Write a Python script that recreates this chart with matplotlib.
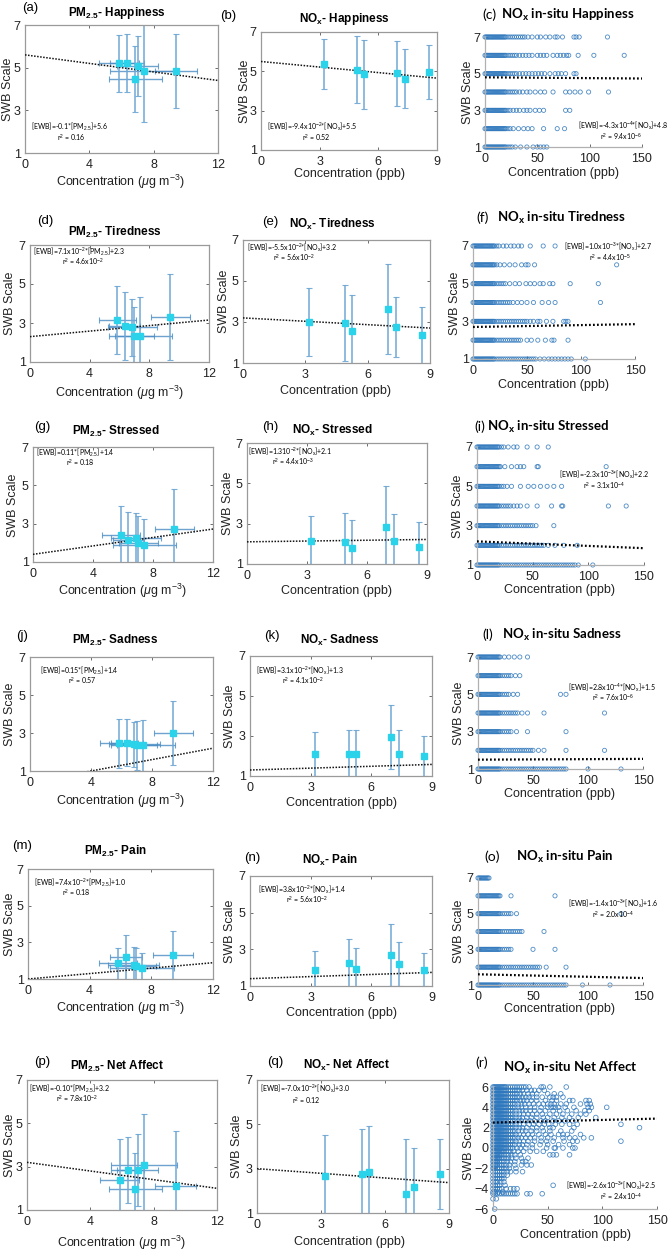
import matplotlib
matplotlib.use('Agg')
import matplotlib.pyplot as plt
import numpy as np

plt.rcParams['font.family'] = ['Liberation Sans', 'DejaVu Sans']
plt.rcParams['mathtext.fontset'] = 'custom'
plt.rcParams['mathtext.rm'] = 'Liberation Sans'
plt.rcParams['mathtext.it'] = 'Liberation Sans:italic'
plt.rcParams['mathtext.bf'] = 'Liberation Sans:bold'

# ---------------- data ----------------
pm_x = [5.85, 6.35, 6.85, 7.0, 7.4, 9.4]
pm_xerr = [1.25, 1.05, 1.65, 1.3, 2.1, 1.3]
nox_x = [3.2, 4.9, 5.25, 6.97, 7.35, 8.6]

a_y = [5.20, 5.23, 4.45, 5.07, 4.85, 4.85]; a_yerr = [1.32, 1.37, 1.55, 1.40, 2.40, 1.73]
d_y = [3.17, 2.86, 2.78, 2.32, 2.35, 3.30]; d_yerr = [1.75, 1.75, 1.46, 1.49, 2.00, 2.22]
g_y = [2.39, 2.17, 2.27, 1.99, 1.87, 2.70]; g_yerr = [1.53, 1.43, 1.30, 1.39, 1.36, 2.09]
j_y = [2.45, 2.50, 2.40, 2.35, 2.35, 3.00]; j_yerr = [1.30, 1.25, 1.20, 1.30, 1.35, 1.70]
m_y = [1.85, 2.20, 1.75, 1.70, 1.60, 2.30]; m_yerr = [0.85, 1.20, 1.00, 1.00, 0.80, 1.30]
p_y = [2.38, 2.85, 1.97, 2.83, 3.06, 2.12]; p_yerr = [1.90, 1.53, 1.68, 1.66, 2.36, 2.53]

b_y = [5.36, 5.09, 4.85, 4.89, 4.62, 4.96]; b_yerr = [1.28, 1.72, 1.76, 1.67, 1.50, 1.37]
e_y = [3.00, 2.95, 2.55, 3.65, 2.75, 2.35]; e_yerr = [1.65, 1.85, 1.75, 2.20, 1.45, 1.40]
h_y = [2.14, 2.07, 1.78, 2.84, 2.16, 1.84]; h_yerr = [1.26, 1.45, 1.38, 2.04, 1.31, 1.26]
k_y = [2.10, 2.10, 2.10, 2.95, 2.10, 2.00]; k_yerr = [1.10, 1.20, 1.20, 1.60, 1.20, 1.00]
n_y = [1.90, 2.25, 1.95, 2.70, 2.20, 1.90]; n_yerr = [1.00, 1.30, 1.10, 1.70, 1.20, 0.90]
q_y = [2.66, 2.78, 2.85, 1.84, 2.17, 2.78]; q_yerr = [1.84, 2.03, 2.07, 2.48, 1.78, 1.58]

# fit coefficients (slope, intercept)
fit_a = (-0.10, 5.6); fit_b = (-0.094, 5.5); fit_c = (-4.3e-4, 4.8)
fit_d = (0.071, 2.3); fit_e = (-0.055, 3.2); fit_f = (1.0e-3, 2.7)
fit_g = (0.11, 1.4); fit_h = (0.013, 2.1); fit_i = (-2.3e-3, 2.2)
fit_j = (0.15, 0.4); fit_k = (0.031, 1.3); fit_l = (2.8e-4, 1.5)
fit_m = (0.074, 1.0); fit_n = (0.038, 1.4); fit_o = (-1.4e-3, 1.6)
fit_p = (-0.10, 3.2); fit_q = (-0.070, 3.0); fit_r = (2.6e-3, 2.5)

# in-situ scatter: x values (ppb) of responses at each SWB level 1..7
swb_levels = [1, 2, 3, 4, 5, 6, 7]
c_x1 = [0,1,2,3,4,5,6,7,8,9,10,11,12,13,14,15,16,17,18,19,20,22,24,26,29,34,40,46,50,53,56,59]
c_x2 = [0,1,2,3,4,5,6,7,8,9,10,11,12,13,14,15,16,17,18,19,20,22,24,27,32,37,41,45,56,69,76]
c_x3 = [0,1,2,3,4,5,6,7,8,9,10,11,12,13,14,15,16,17,18,19,20,22,24,27,30,33,37,40,43,48,52,56,77,81]
c_x4 = [0,1,2,3,4,5,6,7,8,9,10,11,12,13,14,15,16,17,18,19,20,22,24,26,28,30,33,36,40,43,48,53,57,65,77,81,86,91,99,118]
c_x5 = [0,1,2,3,4,5,6,7,8,9,10,11,12,13,14,15,16,17,18,19,20,22,24,26,28,30,33,36,39,42,45,48,51,54,57,62,67,70,73,77,85,87]
c_x6 = [0,1,2,3,4,5,6,7,8,9,10,11,12,13,14,15,16,17,18,19,20,22,24,26,28,30,33,36,39,42,45,50,53,56,59,65,69,72,75,78,80,89,104,133]
c_x7 = [0,1,2,3,4,5,6,7,8,9,10,11,12,13,14,15,16,17,18,19,20,22,24,26,28,30,32,34,36,38,41,45,50,53,58,62,67,69,74,85,87,90,117]

f_x1 = [0,1,2,3,4,5,6,7,8,9,10,11,12,13,14,15,16,17,18,19,20,22,24,26,28,30,32,34,36,38,40,42,44,46,48,50,52,54,56,58,62,66,70,73,76,79,82,85,88,91,104]
f_x2 = [0,1,2,3,4,5,6,7,8,9,10,11,12,13,14,15,16,17,18,19,20,22,24,26,28,30,32,34,36,38,40,42,44,50,54,60,67,73,75,88]
f_x3 = [0,1,2,3,4,5,6,7,8,9,10,11,12,13,14,15,16,17,18,19,20,22,24,26,28,30,32,34,36,38,40,42,44,46,48,50,53,56,60,62,68,74,84,86,88]
f_x4 = [0,1,2,3,4,5,6,7,8,9,10,11,12,13,14,15,16,17,18,19,20,22,24,26,28,30,32,34,37,41,45,50,56,64,70,76,118]
f_x5 = [0,1,2,3,4,5,6,7,8,9,10,11,12,13,14,15,16,17,18,19,20,22,24,26,28,30,34,39,43,49,53,57,62,65,71,74,90,116]
f_x6 = [0,1,2,3,4,5,6,7,8,9,10,11,12,13,14,15,16,17,18,19,20,22,25,29,34,39,45,49,51,57,133]
f_x7 = [0,1,2,3,4,5,6,7,8,9,10,11,12,13,14,15,16,17,18,19,20,22,24,28,31,35,38,42,45,53,65,76]

i_x1 = [0,1,2,3,4,5,6,7,8,9,10,11,12,13,14,15,16,17,18,19,20,22,24,26,28,30,32,34,36,38,40,42,44,46,48,50,52,54,56,58,60,62,64,66,68,70,72,74,76,78,80,82,84,86,88,91,104]
i_x2 = [0,1,2,3,4,5,6,7,8,9,10,11,12,13,14,15,16,17,18,19,20,22,24,26,28,30,32,34,36,38,40,42,44,46,48,50,52,54,56,58,60,64,70,78,90]
i_x3 = [0,1,2,3,4,5,6,7,8,9,10,11,12,13,14,15,16,17,18,19,20,22,24,26,28,30,32,34,36,38,40,42,44,46,48,50,53,69]
i_x4 = [0,1,2,3,4,5,6,7,8,9,10,11,12,13,14,15,16,17,18,19,20,22,24,26,28,30,33,36,39,45,54,67,76,77,118,134]
i_x5 = [0,1,2,3,4,5,6,7,8,9,10,11,12,13,14,15,16,17,18,19,20,22,24,27,31,39,46,51,57,63,69,76]
i_x6 = [0,1,2,3,4,5,6,7,8,9,10,11,12,13,14,15,16,17,18,19,20,21,25,31,36,39,42,54,55,116]
i_x7 = [0,1,2,3,4,5,6,7,8,9,10,11,12,13,14,15,16,17,18,19,20,22,24,28,33,36,45,54,64]

l_x1 = [0,1,2,3,4,5,6,7,8,9,10,11,12,13,14,15,16,17,18,19,20,22,24,26,28,30,32,34,36,38,40,42,44,46,48,50,52,54,56,58,60,62,64,66,68,70,72,74,76,78,80,100,130]
l_x2 = [0,1,2,3,4,5,6,7,8,9,10,11,12,13,14,15,16,17,18,19,20,22,24,26,28,30,32,34,36,38,40,42,44,46,48,50,55,60,80,115]
l_x3 = [0,1,2,3,4,5,6,7,8,9,10,11,12,13,14,15,16,17,18,19,20,22,24,26,28,30,35,45,80]
l_x4 = [0,1,2,3,4,5,6,7,8,9,10,11,12,13,14,15,16,17,18,19,20,22,24,26,28,30,32,34,36,40,45,60,115]
l_x5 = [0,1,2,3,4,5,6,7,8,9,10,11,12,13,14,15,16,17,18,19,20,22,24,26,28,32,36,75,80]
l_x6 = [0,1,2,3,4,5,6,7,8,9,10,11,12,13,14,15,16,17,18,19,20,22,24,26,28,30,34,38]
l_x7 = [0,1,2,3,4,5,6,7,8,9,10,11,12,13,14,15,16,17,18,19,20,24,28,33,38,45]

o_x1 = [0,1,2,3,4,5,6,7,8,9,10,11,12,13,14,15,16,17,18,19,20,22,24,26,28,30,32,34,36,38,40,42,44,46,48,50,52,54,56,58,60,62,64,66,68,70,72,74,76,78,80,95,120]
o_x2 = [0,1,2,3,4,5,6,7,8,9,10,11,12,13,14,15,16,17,18,19,20,22,24,26,28,30,32,34,36,38,40,42,44,46,48,50,52,54,56,62,80]
o_x3 = [0,1,2,3,4,5,6,7,8,9,10,11,12,13,14,15,16,17,18,19,20,22,24,26,28,30,50,70]
o_x4 = [0,1,2,3,4,5,6,7,8,9,10,11,12,13,14,15,16,17,18,19,20,22,24,26,28,30,32,34,36,38,40,60]
o_x5 = [0,1,2,3,4,5,6,7,8,9,10,11,12,13,14,15,16,17,18,19,20,22,24,26,28,30,35,130]
o_x6 = [0,1,2,3,4,5,6,7,8,9,10,11,12,13,14,15,16,17,18,19,20,30,70]
o_x7 = [0,1,2,3,4,5,6,7,8,9,10]

# net affect: levels and x values at each level
r_levels = [6.0, 5.67, 5.33, 5.0, 4.67, 4.33, 4.0, 3.67, 3.33, 3.0, 2.67, 2.33, 2.0, 1.67,
            1.33, 1.0, 0.67, 0.33, 0.0, -0.33, -0.67, -1.0, -1.33, -1.67, -2.0, -2.33,
            -2.67, -3.0, -3.33, -3.67, -4.0, -4.33, -4.5, -5.0, -6.0]
r_x_by_level = [
    [0,1,2,3,4,5,6,7,8,9,10,11,12,14,16,18,20,22,24,26,28,30,33,44,46,52,67],
    [0,1,2,3,4,5,6,7,8,9,10,11,12,14,16,18,20,22,24,27,31,35,38,42,47],
    [0,1,2,3,4,5,6,7,8,9,10,11,12,14,16,18,20,22,25,28,32,36,40,50,56,62],
    [0,1,2,3,4,5,6,7,8,9,10,11,12,14,16,18,20,22,24,27,30,33,36,40,45,52,55,58,64],
    [0,1,2,3,4,5,6,7,8,9,10,11,12,14,16,18,20,22,25,28,31,35,40,48,54,58,70,73,85,88],
    [0,1,2,3,4,5,6,7,8,9,10,11,12,14,16,18,20,23,26,29,33,37,42,46,50,53,56,62,67,80,86,89],
    [0,1,2,3,4,5,6,7,8,9,10,11,12,14,16,18,20,23,26,30,34,38,44,50,53,55,57,60,66,74,87,90,104],
    [0,1,2,3,4,5,6,7,8,9,10,11,12,14,16,18,21,24,27,30,34,38,43,48,55,61,68,76,84,88],
    [0,1,2,3,4,5,6,7,8,9,10,11,12,14,16,18,21,24,28,32,36,40,45,52,58,64,72,80,85],
    [0,1,2,3,4,5,6,7,8,9,10,11,12,14,16,18,21,24,27,31,35,40,46,50,56,63,70,78,94],
    [0,1,2,3,4,5,6,7,8,9,10,11,12,14,16,18,20,23,26,30,34,38,44,48,55,60,66,73],
    [0,1,2,3,4,5,6,7,8,9,10,11,12,14,16,18,21,24,28,33,37,42,47,51,57,63,70,77,117],
    [0,1,2,3,4,5,6,7,8,9,10,11,12,14,16,18,21,24,27,31,36,40,45,52,55,74,134],
    [0,1,2,3,4,5,6,7,8,9,10,11,12,14,16,18,20,23,27,30,35,40,46,52,62,72],
    [0,1,2,3,4,5,6,7,8,9,10,11,12,14,16,18,21,24,28,32,36,42,48,53,60,64,68,80],
    [0,1,2,3,4,5,6,7,8,9,10,11,12,14,16,18,20,23,26,30,34,38,44,50,56,64,70,75,83,90],
    [0,1,2,3,4,5,6,7,8,9,10,11,12,14,16,18,21,24,28,32,38,44,49,55,65,73,77,117],
    [0,1,2,3,4,5,6,7,8,9,10,11,12,14,16,18,20,24,27,31,36,43,50,60,70],
    [0,1,2,3,4,5,6,7,8,9,10,11,12,14,16,18,22,25,30,36,49,56,57,64,73,75],
    [0,1,2,3,4,5,6,7,8,9,10,12,14,16,19,23,28,34,40,46],
    [0,1,2,3,4,5,6,7,8,10,12,14,17,20,25,52,55,58,70],
    [0,1,2,3,4,5,6,8,10,12,14,17,21,26,32],
    [0,1,2,3,4,6,8,10,13,16,20,27,30],
    [0,1,2,3,4,6,8,10,12,15,20,26,31,35],
    [0,1,2,4,6,8,10,12,15,21],
    [0,2,4,6,8,10,13,16,21,27],
    [0,2,4,6,8,10,13],
    [0,2,4,6,8,10],
    [0,2,4,7,10],
    [0,2,4,6,11,55],
    [0,2,4,6,8,12,16,19,22],
    [0,2,5,9],
    [0,2,4,6,8,10,12,14,16,18,20,22,31,34,45],
    [0,3],
    [1.5],
]

pm_xticks = [0, 4, 8, 12]
nox_xticks = [0, 3, 6, 9]
insitu_xticks = [0, 50, 100, 150]
swb_yticks = [1, 3, 5, 7]
net_yticks = [6, 4, 2, 0, -2, -4, -6]

# ---------------- figure ----------------
W, H = 668, 1251
fig = plt.figure(figsize=(W / 100, H / 100), dpi=100)

def frac_box(x0, x1, yt, yb):
    return [x0 / W, 1 - yb / H, (x1 - x0) / W, (yb - yt) / H]

def ftext(x, y, s, **kw):
    fig.text(x / W, 1 - y / H, s, **kw)

SPINE = '#9a9a9a'
VBAR = '#6ea6d3'
HBAR = '#4a8cc4'
MARK = '#2ad2ea'
CIRC = '#2f78bd'
ANN_FONT = ['Lato', 'DejaVu Sans']
CAL_FONT = ['Lato', 'DejaVu Sans']

def style_ticks(ax):
    ax.tick_params(direction='in', length=2.5, width=0.6, color='#555555',
                   labelsize=9, pad=3)
    for t in ax.get_xticklabels() + ax.get_yticklabels():
        t.set_color('#222222')

def summary_panel(bx, xs, xerr, ys, yerr, fit, xmax, xticks):
    ax = fig.add_axes(frac_box(*bx))
    if xerr is not None:
        ax.errorbar(xs, ys, xerr=xerr, fmt='none', ecolor=HBAR, elinewidth=1.0,
                    capsize=2, capthick=0.8, alpha=0.8, zorder=2)
    ax.errorbar(xs, ys, yerr=yerr, fmt='none', ecolor=VBAR, elinewidth=1.2,
                capsize=2, capthick=0.8, alpha=0.9, zorder=2)
    lx = np.array([0, xmax], dtype=float)
    ax.plot(lx, fit[0] * lx + fit[1], color='#111111', lw=1.1,
            linestyle=(0, (1, 1)), zorder=3)
    ax.plot(xs, ys, 's', color=MARK, ms=4.2, mec=MARK, zorder=4)
    ax.set_xlim(0, xmax)
    ax.set_ylim(1, 7)
    ax.set_xticks(xticks)
    ax.set_yticks(swb_yticks)
    for s in ax.spines.values():
        s.set_color(SPINE)
        s.set_linewidth(0.9)
    ax.tick_params(top=True, right=True)
    style_ticks(ax)
    ax.tick_params(axis='x', pad=4)
    return ax

def insitu_panel(bx, xs_by_level, levels, fit, yticks, ylim, msize=9):
    ax = fig.add_axes(frac_box(*bx))
    for lev, xs in zip(levels, xs_by_level):
        ax.scatter(xs, [lev] * len(xs), s=msize, facecolors='none', edgecolors=CIRC,
                   linewidths=0.6, alpha=0.85, clip_on=False, zorder=2)
    lx = np.array([0, 150], dtype=float)
    ax.plot(lx, fit[0] * lx + fit[1], color='#000000', lw=1.6,
            linestyle=(0, (0.8, 1.0)), zorder=3)
    ax.set_xlim(0, 150)
    ax.set_ylim(*ylim)
    ax.set_xticks(insitu_xticks)
    ax.set_yticks(yticks)
    for k in ['top', 'right']:
        ax.spines[k].set_visible(False)
    for k in ['left', 'bottom']:
        ax.spines[k].set_color('#b0b0b0')
        ax.spines[k].set_linewidth(0.9)
    style_ticks(ax)
    ax.tick_params(axis='x', pad=4)
    return ax

pm_xlabel = 'Concentration ($\\mu$g m$^{-3}$)'
nox_xlabel = 'Concentration (ppb)'

def decorate(letter, lpos, title, tpos, xlab, xpos, ypos, ycen, calibri=False):
    if calibri:
        ftext(lpos[0], lpos[1], letter, fontsize=10, ha='center', va='center',
              family=CAL_FONT)
        ftext(tpos[0], tpos[1], title, fontsize=9.5, ha='center', va='center',
              family=CAL_FONT, fontweight='bold')
    else:
        ftext(lpos[0], lpos[1], letter, fontsize=9.5, ha='center', va='center')
        ftext(tpos[0], tpos[1], title, fontsize=8.5, ha='center', va='center',
              fontweight='bold')
    ftext(xpos[0], xpos[1], xlab, fontsize=9, ha='center', va='center', color='#222222')
    ftext(ypos, ycen, 'SWB Scale', fontsize=9, ha='center', va='center',
          rotation=90, color='#222222')

def annot(x1, y1, s1, x2, y2, s2):
    ftext(x1, y1, s1, fontsize=5, ha='left', va='center', family=ANN_FONT)
    ftext(x2, y2 + 1, s2, fontsize=5, ha='left', va='center', family=ANN_FONT)

PMT = 'PM$_{\\mathbf{2.5}}$- '
NOT = 'NO$_{\\mathbf{x}}$- '
NIT = 'NO$_{\\mathbf{x}}$ in-situ '
PMA = '[PM$_{2.5}$]'
NOA = '[NO$_\\mathrm{x}$]'

# ---- row 1 ----
summary_panel((25, 218, 25, 153), pm_x, pm_xerr, a_y, a_yerr, fit_a, 12, pm_xticks)
decorate('(a)', (30, 8), PMT + 'Happiness', (117, 13), pm_xlabel, (121, 182), 8, 89)
annot(31, 127, '[EWB]=-0.1*' + PMA + '+5.6', 57, 137, 'r$^2$ = 0.16')

summary_panel((261, 437, 32, 150), nox_x, None, b_y, b_yerr, fit_b, 9, nox_xticks)
decorate('(b)', (228, 16), NOT + 'Happiness', (344, 19), nox_xlabel, (349, 174), 245, 91)
annot(267, 127, '[EWB]=-9.4x10$^{-2}$*' + NOA + '+5.5', 302, 137, 'r$^2$ = 0.52')

insitu_panel((485, 642, 37, 147), [c_x1, c_x2, c_x3, c_x4, c_x5, c_x6, c_x7], swb_levels,
             fit_c, swb_yticks, (1, 7))
decorate('(c)', (489, 15), NIT + 'Happiness', (568, 15), nox_xlabel, (563, 173), 468, 92,
         calibri=True)
annot(578, 126, '[EWB]=-4.3x10$^{-4}$*' + NOA + '+4.8', 600, 136, 'r$^2$ = 9.4x10$^{-6}$')

# ---- row 2 ----
summary_panel((30, 209, 245, 362), pm_x, pm_xerr, d_y, d_yerr, fit_d, 12, pm_xticks)
decorate('(d)', (45, 221), PMT + 'Tiredness', (115, 232), pm_xlabel, (120, 393), 10, 303)
annot(33, 252, '[EWB]=7.1x10$^{-2}$*' + PMA + '+2.3', 62, 261, 'r$^2$ = 4.6x10$^{-2}$')

summary_panel((243, 430, 240, 363), nox_x, None, e_y, e_yerr, fit_e, 9, nox_xticks)
decorate('(e)', (270, 222), NOT + 'Tiredness', (332, 224), nox_xlabel, (336, 391), 224, 301)
annot(247, 248, '[EWB]=-5.5x10$^{-2}$*' + NOA + '+3.2', 273, 257, 'r$^2$ = 5.6x10$^{-2}$')

insitu_panel((473, 635, 246, 359), [f_x1, f_x2, f_x3, f_x4, f_x5, f_x6, f_x7], swb_levels,
             fit_f, swb_yticks, (1, 7))
decorate('(f)', (483, 218), NIT + 'Tiredness', (561, 218), nox_xlabel, (554, 385), 455, 303,
         calibri=True)
annot(564, 247, '[EWB]=1.0x10$^{-3}$*' + NOA + '+2.7', 589, 257, 'r$^2$ = 4.4x10$^{-5}$')

# ---- row 3 ----
summary_panel((33, 213, 447, 562), pm_x, pm_xerr, g_y, g_yerr, fit_g, 12, pm_xticks)
decorate('(g)', (42, 427), PMT + 'Stressed', (116, 431), pm_xlabel, (123, 591), 13, 505)
annot(36, 453, '[EWB]=0.11*' + PMA + '+1.4', 66, 462, 'r$^2$ = 0.18')

summary_panel((247, 427, 443, 564), nox_x, None, h_y, h_yerr, fit_h, 9, nox_xticks)
decorate('(h)', (270, 427), NOT + 'Stressed', (332, 430), nox_xlabel, (337, 591), 228, 503)
annot(248, 452, '[EWB]=1.310$^{-2}$*' + NOA + '+2.1', 272, 461, 'r$^2$ = 4.4x10$^{-3}$')

insitu_panel((477, 644, 447, 565), [i_x1, i_x2, i_x3, i_x4, i_x5, i_x6, i_x7], swb_levels,
             fit_i, swb_yticks, (1, 7))
decorate('(i)', (480, 427), NIT + 'Stressed', (548, 427), nox_xlabel, (560, 590), 458, 506,
         calibri=True)
annot(559, 475, '[EWB]=-2.3x10$^{-3}$*' + NOA + '+2.2', 583, 485, 'r$^2$ = 3.1x10$^{-4}$')

# ---- row 4 ----
summary_panel((30, 213, 657, 771), pm_x, pm_xerr, j_y, j_yerr, fit_j, 12, pm_xticks)
decorate('(j)', (22, 636), PMT + 'Sadness', (115, 640), pm_xlabel, (121, 801), 10, 714)
annot(40, 671, '[EWB]=0.15*' + PMA + '+1.4', 68, 680, 'r$^2$ = 0.57')

summary_panel((250, 432, 656, 776), nox_x, None, k_y, k_yerr, fit_k, 9, nox_xticks)
decorate('(k)', (272, 636), NOT + 'Sadness', (340, 640), nox_xlabel, (341, 803), 230, 716)
annot(256, 671, '[EWB]=3.1x10$^{-2}$*' + NOA + '+1.3', 282, 680, 'r$^2$ = 4.1x10$^{-2}$')

insitu_panel((478, 643, 657, 769), [l_x1, l_x2, l_x3, l_x4, l_x5, l_x6, l_x7], swb_levels,
             fit_l, swb_yticks, (1, 7))
decorate('(l)', (488, 635), NIT + 'Sadness', (562, 635), nox_xlabel, (560, 794), 459, 713,
         calibri=True)
annot(568, 688, '[EWB]=2.8x10$^{-4}$*' + NOA + '+1.5', 592, 697, 'r$^2$ = 7.6x10$^{-6}$')

# ---- row 5 ----
summary_panel((28, 213, 869, 979), pm_x, pm_xerr, m_y, m_yerr, fit_m, 12, pm_xticks)
decorate('(m)', (22, 846), PMT + 'Pain', (115, 851), pm_xlabel, (121, 1008), 10, 924)
annot(34, 883, '[EWB]=7.4x10$^{-2}$*' + PMA + '+1.0', 62, 892, 'r$^2$ = 0.18')

summary_panel((250, 432, 876, 986), nox_x, None, n_y, n_yerr, fit_n, 9, nox_xticks)
decorate('(n)', (252, 858), NOT + 'Pain', (330, 860), nox_xlabel, (341, 1013), 230, 931)
annot(258, 890, '[EWB]=3.8x10$^{-2}$*' + NOA + '+1.4', 286, 899, 'r$^2$ = 5.6x10$^{-2}$')

insitu_panel((478, 643, 878, 985), [o_x1, o_x2, o_x3, o_x4, o_x5, o_x6, o_x7], swb_levels,
             fit_o, swb_yticks, (1, 7))
decorate('(o)', (492, 857), NIT + 'Pain', (565, 857), nox_xlabel, (560, 1009), 459, 931,
         calibri=True)
annot(568, 904, '[EWB]=-1.4x10$^{-3}$*' + NOA + '+1.6', 592, 914, 'r$^2$ = 2.0x10$^{-4}$')

# ---- row 6 ----
summary_panel((27, 217, 1080, 1210), pm_x, pm_xerr, p_y, p_yerr, fit_p, 12, pm_xticks)
decorate('(p)', (42, 1062), PMT + 'Net Affect', (117, 1066), pm_xlabel, (122, 1243), 10, 1145)
annot(29, 1089, '[EWB]=-0.10*' + PMA + '+3.2', 56, 1098, 'r$^2$ = 7.8x10$^{-2}$')

summary_panel((257, 449, 1080, 1213), nox_x, None, q_y, q_yerr, fit_q, 9, nox_xticks)
decorate('(q)', (275, 1062), NOT + 'Net Affect', (347, 1065), nox_xlabel, (350, 1242), 237, 1146)
annot(260, 1089, '[EWB]=-7.0x10$^{-2}$*' + NOA + '+3.0', 292, 1100, 'r$^2$ = 0.12')

insitu_panel((493, 657, 1087, 1209), r_x_by_level, r_levels, fit_r, net_yticks, (-6, 6),
             msize=11)
decorate('(r)', (482, 1063), NIT + 'Net Affect', (570, 1068), nox_xlabel, (575, 1235), 469, 1148,
         calibri=True)
annot(566, 1186, '[EWB]=-2.6x10$^{-3}$*' + NOA + '+2.5', 600, 1196, 'r$^2$ = 2.4x10$^{-4}$')

fig.savefig('out.png', dpi=100, facecolor='white')
